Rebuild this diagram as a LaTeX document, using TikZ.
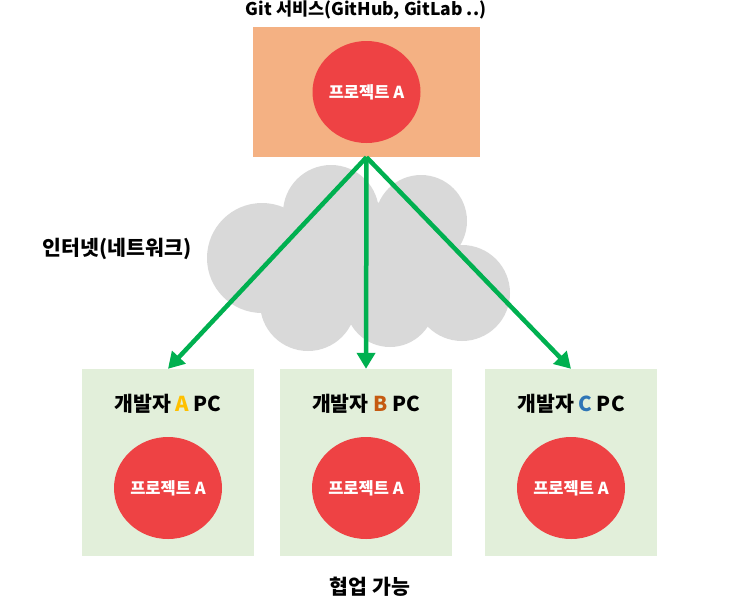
\documentclass[tikz,border=0pt]{standalone}
\usepackage{fontspec}
\setmainfont{Noto Sans CJK KR}
\usetikzlibrary{arrows.meta}
\usetikzlibrary{shapes.geometric}
\definecolor{gitorange}{HTML}{F4B183}
\definecolor{projred}{HTML}{EE4244}
\definecolor{pcgreen}{HTML}{E2EFDA}
\definecolor{cloudgray}{HTML}{D9D9D9}
\definecolor{linkgreen}{HTML}{00B050}
\definecolor{devA}{HTML}{FFC000}
\definecolor{devB}{HTML}{C55A11}
\definecolor{devC}{HTML}{2E75B6}

\begin{document}
\begin{tikzpicture}[x=1pt, y=-1pt,
    proj/.style={ellipse, fill=projred, text=white, minimum width=108pt, minimum height=102pt, inner sep=0pt, font=\bfseries\fontsize{16.5}{19}\selectfont},
    pcbox/.style={fill=pcgreen, minimum width=172pt, minimum height=187pt, inner sep=0pt},
    link/.style={-{Triangle[length=16pt,width=18pt]}, line width=4.5pt, draw=linkgreen},
    lbl/.style={font=\bfseries\fontsize{20.5}{24}\selectfont}]
            \useasboundingbox (0,0) rectangle (730,603);

            % Git service
            \node[lbl, font=\bfseries\fontsize{17.5}{20}\selectfont] (gitlbl) at (366,10) {Git 서비스(GitHub, GitLab ..)};
            \node[fill=gitorange, minimum width=227pt, minimum height=130pt, inner sep=0pt] (git) at (366.5,92) {};
            \node[proj] (gitproj) at (git.center) {프로젝트 A};

            % Internet cloud
            \foreach \x/\y/\r in {262/258/55, 331/213/48, 421/221/46, 462/293/48, 308/303/48, 390/302/45, 370/262/60} {
                \fill[cloudgray] (\x,\y) circle (\r pt);
            }
            \node[lbl] (netlbl) at (117,249) {인터넷(네트워크)};

            % Developer PCs
            \foreach \n/\x/\c in {A/168/devA, B/366/devB, C/571/devC} {
                \node[pcbox] (pc\n) at (\x,462.5) {};
                \node[lbl] (pclbl\n) at (\x,404) {개발자 \textcolor{\c}{\n} PC};
                \node[proj] (proj\n) at (\x,488) {프로젝트 A};
                \draw[link] (git.south) -- (pc\n.north);
            }

            \node[lbl] (collab) at (370,587) {협업 가능};
        \end{tikzpicture}
\end{document}
